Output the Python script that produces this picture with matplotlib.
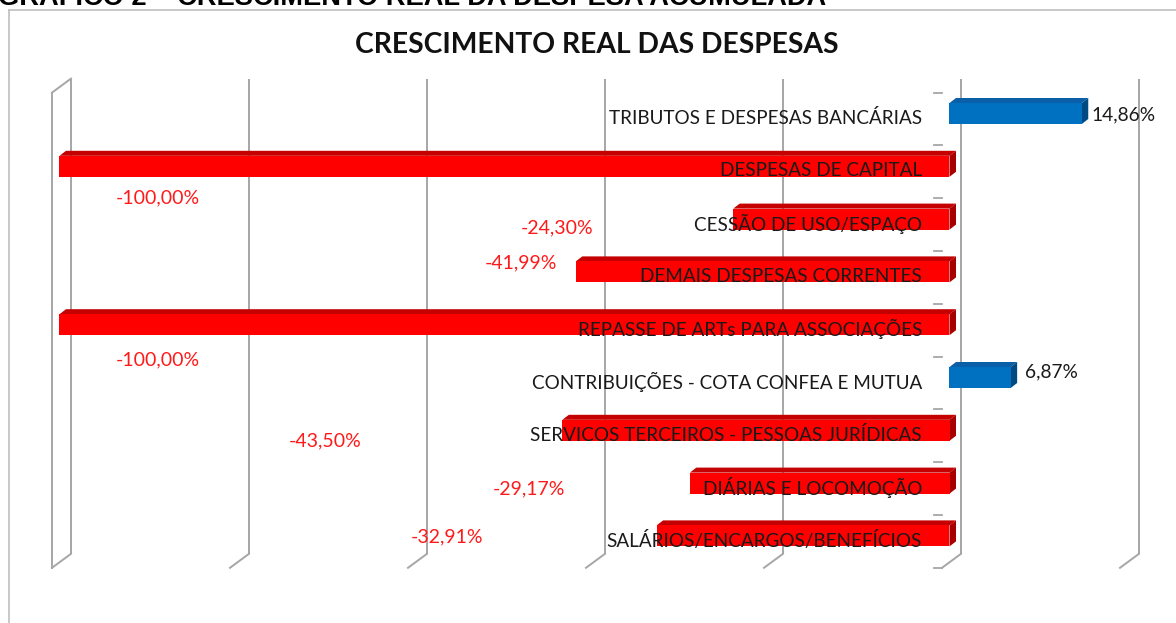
import matplotlib
matplotlib.use("Agg")
import matplotlib.pyplot as plt
from matplotlib.patches import Polygon, Rectangle
from matplotlib.lines import Line2D

# ---------------- data ----------------
categories = [
    "TRIBUTOS E DESPESAS BANCÁRIAS",
    "DESPESAS DE CAPITAL",
    "CESSÃO DE USO/ESPAÇO",
    "DEMAIS DESPESAS CORRENTES",
    "REPASSE DE ARTs PARA ASSOCIAÇÕES",
    "CONTRIBUIÇÕES - COTA CONFEA E MUTUA",
    "SERVICOS TERCEIROS - PESSOAS JURÍDICAS",
    "DIÁRIAS E LOCOMOÇÃO",
    "SALÁRIOS/ENCARGOS/BENEFÍCIOS",
]
values = [14.86, -100.00, -24.30, -41.99, -100.00, 6.87, -43.50, -29.17, -32.91]
value_labels = ["14,86%", "-100,00%", "-24,30%", "-41,99%", "-100,00%",
                "6,87%", "-43,50%", "-29,17%", "-32,91%"]
grid_ticks = [-100, -80, -60, -40, -20, 0, 20]

title = "CRESCIMENTO REAL DAS DESPESAS"
header = "GRÁFICO 2 – CRESCIMENTO REAL DA DESPESA ACUMULADA"

# label placement (x in %, y as offset in rows), as Excel put them
label_place = [(16.0, 0.03), (-89.0, 0.60), (-44.1, 0.17), (-48.1, -0.17),
               (-89.0, 0.67), (8.5, -0.10), (-70.2, 0.20), (-47.3, 0.11),
               (-56.5, 0.02)]

# ---------------- layout ----------------
W, H = 1176, 623
ZERO_PX = 949.5      # pixel x of 0 % on the bar front plane
PX_PER_UNIT = 8.9    # pixels per 1 %
ROW0_PX = 113.5      # pixel y of first category (bar front plane)
ROW_PX = 52.8        # pixels per category

fig = plt.figure(figsize=(W / 100, H / 100), dpi=100)
fig.patch.set_facecolor("white")
ax = fig.add_axes([0, 0, 1, 1])
ax.set_xlim((0 - ZERO_PX) / PX_PER_UNIT, (W - ZERO_PX) / PX_PER_UNIT)
ax.set_ylim((H - ROW0_PX) / ROW_PX, (0 - ROW0_PX) / ROW_PX)
ax.axis("off")


def dx(px):
    return px / PX_PER_UNIT


def dy(px):
    return px / ROW_PX


# 3D offsets (pixels) relative to bar front plane
BACK = (11.5, -8.5)
FLOOR = (-7.5, 5.5)
BAR_DEPTH = (6.5, -5.0)

grid_c = "#A6A6A6"
n = len(categories)
y_top, y_bot = -0.5, n - 0.5

# gridlines on the back plane + floor slants
for g in grid_ticks:
    xb = g + dx(BACK[0])
    xf = g + dx(FLOOR[0])
    ytb = y_top + dy(BACK[1])
    ybb = y_bot + dy(BACK[1])
    ytf = y_top + dy(FLOOR[1])
    ybf = y_bot + dy(FLOOR[1])
    ax.plot([xb, xb], [ytb, ybb], color=grid_c, lw=1.4, zorder=1,
            solid_capstyle="butt")
    ax.plot([xb, xf], [ybb, ybf], color=grid_c, lw=1.4, zorder=1)
    if g == grid_ticks[0]:
        # side wall
        ax.plot([xf, xf], [ytf, ybf], color=grid_c, lw=1.4, zorder=1)
        ax.plot([xf, xb], [ytf, ytb], color=grid_c, lw=1.4, zorder=1)

# category ticks on the floor front
for k in range(n + 1):
    yk = k - 0.5 + dy(FLOOR[1])
    x_axis = 0 + dx(FLOOR[0])
    ax.plot([x_axis - dx(8), x_axis], [yk, yk], color=grid_c, lw=1.3, zorder=1)

# bars
half = dy(10.5)
ox, oy = dx(BAR_DEPTH[0]), dy(BAR_DEPTH[1])
for i, v in enumerate(values):
    if v >= 0:
        front, top, side = "#0070C0", "#0A5FA8", "#004A84"
    else:
        front, top, side = "#FF0000", "#C40000", "#A80000"
    x0, x1 = min(0, v), max(0, v)
    yt, yb = i - half, i + half
    ax.add_patch(Polygon([(x0, yt), (x1, yt), (x1 + ox, yt + oy), (x0 + ox, yt + oy)],
                         closed=True, facecolor=top, edgecolor="none", zorder=3))
    ax.add_patch(Polygon([(x1, yt), (x1, yb), (x1 + ox, yb + oy), (x1 + ox, yt + oy)],
                         closed=True, facecolor=side, edgecolor="none", zorder=3))
    ax.add_patch(Rectangle((x0, yt), x1 - x0, yb - yt, facecolor=front,
                           edgecolor="none", zorder=4))

# category labels
lab_font = "Lato"
for i, c in enumerate(categories):
    ax.text(0 + dx(-27.5), i + dy(4.5), c, ha="right", va="center",
            fontsize=13.6, family=lab_font, color="#1A1A1A", zorder=6)

# value labels
for i, (lbl, v) in enumerate(zip(value_labels, values)):
    lx, ly = label_place[i]
    if v >= 0:
        ax.text(lx, i + ly, lbl, ha="left", va="center", fontsize=13.8,
                family=lab_font, color="#1A1A1A", zorder=6)
    else:
        ax.text(lx, i + ly, lbl, ha="center", va="center", fontsize=14.0,
                family=lab_font, color="#FF1A1A", zorder=6)

# chart title
fig.text(597 / W, 1 - 45 / H, title, ha="center", va="center", fontsize=20.3,
         family="Lato", fontweight="bold", color="#111111")

# header (cut off at top of the page, as in the source document)
fig.text(-2 / W, 1 - 5 / H, header, ha="left", va="baseline", fontsize=19.6,
         family="Liberation Sans", fontweight="bold", color="black")

# chart border
fig.add_artist(Line2D([9 / W, 9 / W], [1 - 10 / H, 0], transform=fig.transFigure,
                      color="#BFBFBF", lw=1.2))
fig.add_artist(Line2D([9 / W, 1], [1 - 10 / H, 1 - 10 / H], transform=fig.transFigure,
                      color="#BFBFBF", lw=1.2))

fig.savefig("out.png", dpi=100, facecolor="white")
